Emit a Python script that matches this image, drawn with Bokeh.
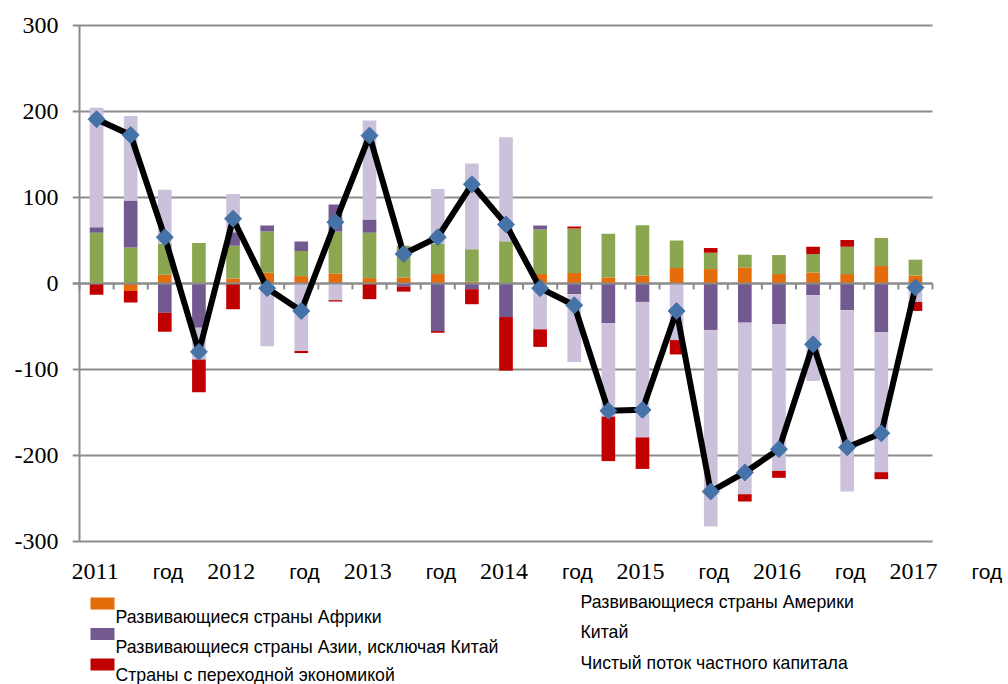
import math
from bokeh.plotting import figure
from bokeh.models import Range1d, FixedTicker, ColumnDataSource
from bokeh.core.properties import value
from bokeh.embed import file_html
from bokeh.resources import INLINE

# ---------------- data (quarterly 2011 Q1 .. 2017 Q1) ----------------
quarters = list(range(25))
africa = [0, -8.6, 10.1, 1, 5.8, 12.5, 8.6, 11.7, 6.3, 7, 11, 2, 0, 11, 12.2, 7,
          9.3, 18, 16.8, 18.7, 11, 12.8, 11, 20.3, 9.3]
america = [59, 42, 36, 46, 38.2, 48, 29.3, 48.8, 52.7, 36.8, 35, 37.8, 49, 51.8, 51.8, 50.8,
           58.4, 32, 19, 14.8, 22.1, 21.5, 31.8, 32.7, 18.4]
asia = [6.5, 54.6, -34, -51.5, 15.7, 7, 10.9, 31.5, 15.5, -3.8, -55.3, -6.6, -39, 4.7, -12.4, -46.3,
        -21.4, 0, -54, -45.5, -47.5, -13.6, -31, -56.7, 0]
china = [139, 98.3, 63, -37, 44.3, -73, -78.5, -19.4, 115, 0, 64, 99.8, 121, -53.3, -78.8, -108.4,
         -157.6, -65.8, -228.7, -199.5, -170.4, -99.9, -210.9, -162.7, -21.4]
transition = [-13.2, -13.6, -22, -38, -30, 0, -2.4, -1.6, -18.2, -5.6, -2, -17.5, -62.3, -20.4, 2.3, -51.8,
              -36.6, -16.7, 5.5, -8.5, -8.1, 8.5, 7.8, -8.1, -10.5]
net_flow = [191, 172.7, 53.8, -79.5, 75.3, -5.4, -32, 71.3, 172, 34.4, 53.8, 115.4, 68.7, -5.4, -25.3, -148,
            -146.9, -32, -241.9, -219.7, -192.6, -70.7, -190.5, -174.2, -4.7]

year_labels = ["2011", "2012", "2013", "2014", "2015", "2016", "2017"]
year_word = "год"
y_ticks = [-300, -200, -100, 0, 100, 200, 300]

series_names = ["Развивающиеся страны Африки", "Развивающиеся страны Америки",
                "Развивающиеся страны Азии, исключая  Китай", "Китай",
                "Страны с переходной экономикой"]
line_name = "Чистый поток частного капитала"
series_values = [africa, america, asia, china, transition]
series_colors = ["#E46C0A", "#8BA650", "#725A91", "#CCC1DA", "#C00000"]

# ---------------- layout (pixels) ----------------
W, H = 1008, 684
X0, CW = 79, (932 - 79) / 25      # px of left category edge, px per category
Y0, PU = 283, (541 - 25) / 600    # px of zero, px per unit
FRAME_LEFT = 72

def px2x(px):
    return -0.5 + (px - X0) / CW

def px2y(py):
    return (Y0 - py) / PU

GRID = "#8C8C8C"
p = figure(width=W, height=H, output_backend="svg", toolbar_location=None,
           x_axis_location=None,
           x_range=Range1d(px2x(FRAME_LEFT), px2x(W)), y_range=Range1d(px2y(H), px2y(0)),
           min_border_left=FRAME_LEFT, min_border_right=0, min_border_top=0, min_border_bottom=0)
p.outline_line_color = None
p.background_fill_color = "white"
p.border_fill_color = "white"
p.xgrid.visible = False
p.ygrid.visible = False

ax = p.yaxis[0]
ax.ticker = FixedTicker(ticks=y_ticks)
ax.major_label_overrides = {t: str(t) for t in y_ticks}
ax.major_label_text_font = "Liberation Serif"
ax.major_label_text_font_size = "24px"
ax.major_label_text_color = "black"
ax.major_label_standoff = 14
ax.axis_line_color = None
ax.major_tick_line_color = None
ax.major_tick_out = 0
ax.major_tick_in = 0
ax.minor_tick_line_color = None

n = len(quarters)
# horizontal gridlines (with tick stubs left of the axis)
p.segment(x0=[px2x(FRAME_LEFT)] * len(y_ticks), y0=y_ticks, x1=[n - 0.5] * len(y_ticks), y1=y_ticks,
          line_color=GRID, line_width=2)
# vertical axis line
p.segment(x0=[-0.5], y0=[y_ticks[0]], x1=[-0.5], y1=[y_ticks[-1]], line_color=GRID, line_width=2)

# ---------------- stacked bars (positive and negative stacked separately) ----------------
pos_base = [0.0] * n
neg_base = [0.0] * n
for vals, col in zip(series_values, series_colors):
    bottoms, tops = [], []
    for i, v in enumerate(vals):
        if v >= 0:
            bottoms.append(pos_base[i]); tops.append(pos_base[i] + v); pos_base[i] += v
        else:
            tops.append(neg_base[i]); bottoms.append(neg_base[i] + v); neg_base[i] += v
    src = ColumnDataSource(dict(x=quarters, bottom=bottoms, top=tops))
    p.vbar(x="x", bottom="bottom", top="top", width=0.4, source=src,
           fill_color=col, line_color=None)

# zero axis line with category tick marks
p.segment(x0=[px2x(FRAME_LEFT)], y0=[0], x1=[n - 0.5], y1=[0], line_color=GRID, line_width=2)
tick_len = 6 / PU
bounds = [k - 0.5 for k in range(n + 1)]
p.segment(x0=bounds, y0=[0] * len(bounds), x1=bounds, y1=[-tick_len] * len(bounds),
          line_color=GRID, line_width=2)

# net flow line with diamond markers
p.line(quarters, net_flow, line_color="black", line_width=6)
p.scatter(quarters, net_flow, marker="square", angle=math.pi / 4, size=12,
          fill_color="#4572A7", line_color="#4572A7")

# ---------------- category labels ("2011 год" spread around every 4th category) ----------------
centers = [1 + 4 * k for k in range(len(year_labels))]
base_y = px2y(571)
p.text(x=[c - 12 / CW for c in centers], y=[base_y] * len(centers), text=year_labels,
       text_align="right", text_baseline="alphabetic",
       text_font=value("Liberation Serif"), text_font_size="24px", text_color="black")
p.text(x=[c + 22 / CW for c in centers], y=[base_y] * len(centers), text=[year_word] * len(centers),
       text_align="left", text_baseline="alphabetic",
       text_font=value("Liberation Sans"), text_font_size="21px", text_color="black")

# ---------------- legend (manual, placed as in the reference) ----------------
left_items = [(series_names[0], series_colors[0]), (series_names[2], series_colors[2]),
              (series_names[4], series_colors[4])]
right_items = [series_names[1], series_names[3], line_name]
sw_top = [597 + 30.5 * r for r in range(3)]
p.quad(left=[px2x(90)] * 3, right=[px2x(114)] * 3,
       top=[px2y(t) for t in sw_top], bottom=[px2y(t + 12) for t in sw_top],
       fill_color=[c for _, c in left_items], line_color=None)
p.text(x=[px2x(115)] * 3, y=[px2y(616), px2y(646), px2y(674.5)], text=[nm for nm, _ in left_items],
       text_align="left", text_baseline="alphabetic",
       text_font=value("Liberation Sans"), text_font_size="17.7px", text_color="black")
p.text(x=[px2x(580)] * 3, y=[px2y(601.3), px2y(631.3), px2y(662)], text=right_items,
       text_align="left", text_baseline="alphabetic",
       text_font=value("Liberation Sans"), text_font_size="17.7px", text_color="black")

open("out.html", "w").write(file_html(p, INLINE))
